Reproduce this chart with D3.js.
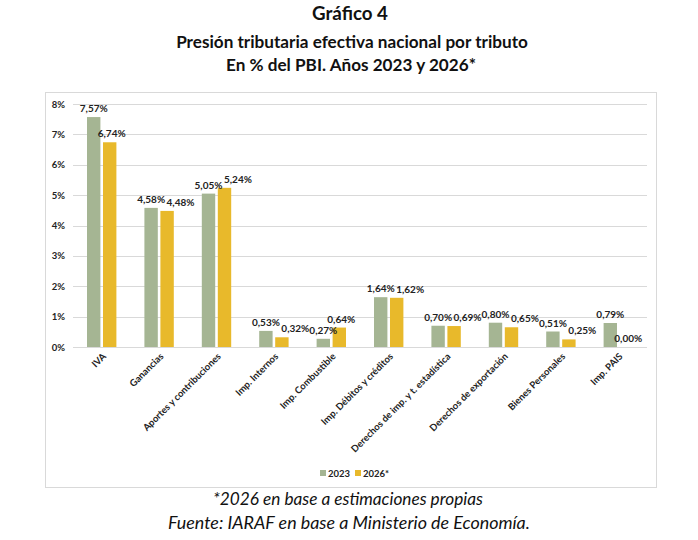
<!DOCTYPE html>
<html>
<head>
<meta charset="utf-8">
<script src="https://cdn.jsdelivr.net/npm/d3@7"></script>
<style>
  body { margin: 0; background: #fff; }
  text { font-family: Lato, "Open Sans", sans-serif; }
</style>
</head>
<body>
<div id="chart"></div>
<script>
// data
var categories = ["IVA", "Ganancias", "Aportes y contribuciones", "Imp. Internos", "Imp. Combustible",
  "Imp. Débitos y créditos", "Derechos de imp. y t. estadística", "Derechos de exportación",
  "Bienes Personales", "Imp. PAIS"];
var values2023 = [7.57, 4.58, 5.05, 0.53, 0.27, 1.64, 0.70, 0.80, 0.51, 0.79];
var values2026 = [6.74, 4.48, 5.24, 0.32, 0.64, 1.62, 0.69, 0.65, 0.25, 0.00];
var seriesNames = ["2023", "2026*"];
var yTicks = [0, 1, 2, 3, 4, 5, 6, 7, 8];

var colors = ["#a5b593", "#e8b92b"];

var svgWidth = 698, svgHeight = 540;
var plot = { left: 73, right: 647, top: 104, bottom: 347 };

var svg = d3.select("#chart").append("svg")
  .attr("width", svgWidth)
  .attr("height", svgHeight);

// titles, shrunk to the width seen in the picture
function fitText(sel, target) {
  var w = sel.node().getComputedTextLength();
  var fs = parseFloat(sel.attr("font-size"));
  sel.attr("font-size", fs * target / w);
}

var t1 = svg.append("text").attr("x", 350).attr("y", 20).attr("text-anchor", "middle")
  .attr("font-weight", "bold").attr("font-size", 16).attr("fill", "#111").text("Gráfico 4");
fitText(t1, 76);
var t2 = svg.append("text").attr("x", 352).attr("y", 48).attr("text-anchor", "middle")
  .attr("font-weight", "bold").attr("font-size", 16).attr("fill", "#111")
  .text("Presión tributaria efectiva nacional por tributo");
fitText(t2, 352);
var t3 = svg.append("text").attr("x", 351).attr("y", 71).attr("text-anchor", "middle")
  .attr("font-weight", "bold").attr("font-size", 16).attr("fill", "#111")
  .text("En % del PBI. Años 2023 y 2026*");
fitText(t3, 250);

// chart frame
svg.append("rect")
  .attr("x", 45.5).attr("y", 92.5)
  .attr("width", 611).attr("height", 395)
  .attr("fill", "none").attr("stroke", "#d9d9d9");

var x0 = d3.scaleBand()
  .domain(categories)
  .range([plot.left, plot.right])
  .paddingInner(0.488)
  .paddingOuter(0.244);

var x1 = d3.scaleBand()
  .domain(seriesNames)
  .range([0, x0.bandwidth()])
  .paddingInner(0.1625);

var y = d3.scaleLinear()
  .domain([0, 8])
  .range([plot.bottom, plot.top]);

// gridlines
svg.append("g").selectAll("line")
  .data(yTicks.slice(1))
  .enter().append("line")
  .attr("x1", plot.left).attr("x2", plot.right)
  .attr("y1", d => Math.round(y(d)) + 0.5).attr("y2", d => Math.round(y(d)) + 0.5)
  .attr("stroke", "#d9d9d9");

// y axis labels
var yAxis = d3.axisLeft(y).tickValues(yTicks).tickSize(0).tickPadding(8)
  .tickFormat(d => d + "%");
var yg = svg.append("g").attr("transform", `translate(${plot.left}, 0)`).call(yAxis);
yg.select(".domain").remove();
yg.selectAll("text").attr("font-size", 9.5).attr("font-weight", "bold").attr("fill", "#222")
  .attr("font-family", "Lato, sans-serif");

// bars
var rows = categories.map(function(c, i) {
  return { cat: c, vals: [values2023[i], values2026[i]] };
});

var groups = svg.append("g").selectAll("g")
  .data(rows)
  .enter().append("g")
  .attr("transform", d => `translate(${x0(d.cat)}, 0)`);

groups.selectAll("rect")
  .data(d => d.vals.map((v, j) => ({ v: v, j: j })))
  .enter().append("rect")
  .attr("x", d => x1(seriesNames[d.j]))
  .attr("y", d => y(d.v))
  .attr("width", x1.bandwidth())
  .attr("height", d => plot.bottom - y(d.v))
  .attr("fill", d => colors[d.j]);

// axis line
svg.append("line")
  .attr("x1", plot.left).attr("x2", plot.right)
  .attr("y1", plot.bottom + 0.5).attr("y2", plot.bottom + 0.5)
  .attr("stroke", "#d9d9d9");

// data labels
function fmt(v) { return v.toFixed(2).replace(".", ",") + "%"; }

groups.each(function(d) {
  var g = d3.select(this);
  var labels = d.vals.map(function(v, j) {
    return g.append("text")
      .attr("x", x1(seriesNames[j]) + x1.bandwidth() / 2 + (j === 1 ? 2 : 0))
      .attr("y", y(v) - 5)
      .attr("text-anchor", "middle")
      .attr("font-size", 10)
      .attr("font-weight", "bold")
      .attr("fill", "#222")
      .text(fmt(v));
  });
  // push the 2026 label right when it sits at nearly the same height as the 2023 one
  var dy = Math.abs(y(d.vals[0]) - y(d.vals[1]));
  if (dy < 11) {
    var w0 = labels[0].node().getComputedTextLength();
    var w1 = labels[1].node().getComputedTextLength();
    var x0l = +labels[0].attr("x"), x1l = +labels[1].attr("x");
    var need = x0l + w0 / 2 + w1 / 2 + 1.5;
    if (x1l < need) labels[1].attr("x", need);
  }
});

// category labels
svg.append("g").selectAll("text")
  .data(categories)
  .enter().append("text")
  .attr("transform", d => `translate(${x0(d) + x0.bandwidth() / 2 + 5}, ${plot.bottom + 10}) rotate(-45)`)
  .attr("text-anchor", "end")
  .attr("font-size", 9.5)
  .attr("font-weight", "bold")
  .attr("fill", "#222")
  .text(d => d);

// legend
var legend = svg.append("g");
var legendX = [320, 355];
seriesNames.forEach(function(s, i) {
  legend.append("rect")
    .attr("x", legendX[i]).attr("y", 470)
    .attr("width", 6).attr("height", 6)
    .attr("fill", colors[i]);
  legend.append("text")
    .attr("x", legendX[i] + 8).attr("y", 476.5)
    .attr("font-size", 9.5).attr("font-weight", "bold").attr("fill", "#222")
    .text(s);
});

// footnotes
var f1 = svg.append("text").attr("x", 348).attr("y", 505).attr("text-anchor", "middle")
  .attr("font-style", "italic").attr("font-size", 15).attr("fill", "#111")
  .text("*2026 en base a estimaciones propias");
fitText(f1, 270);
var f2 = svg.append("text").attr("x", 349).attr("y", 529).attr("text-anchor", "middle")
  .attr("font-style", "italic").attr("font-size", 15).attr("fill", "#111")
  .text("Fuente: IARAF en base a Ministerio de Economía.");
fitText(f2, 362);
</script>
</body>
</html>
